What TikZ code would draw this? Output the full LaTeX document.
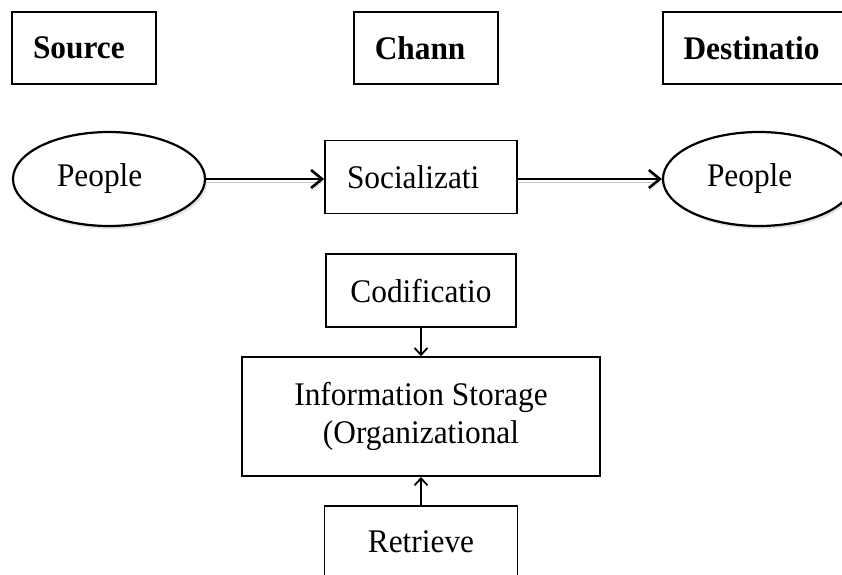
\documentclass[tikz,border=0pt]{standalone}
\usepackage{fontspec}
\setmainfont{Liberation Serif}[FakeStretch=0.95]
\usetikzlibrary{arrows.meta,positioning,shapes.geometric,shadows}

\begin{document}
\begin{tikzpicture}[x=1pt, y=-1pt,
  every node/.style={font=\fontsize{33pt}{38pt}\selectfont},
  box/.style={draw, line width=1.8pt, inner sep=0pt, align=center, minimum height=72pt},
  headbox/.style={box, align=left, inner xsep=21pt, text width=#1, font=\fontsize{33pt}{38pt}\selectfont\bfseries},
  person/.style={draw, ellipse, line width=2.2pt, fill=white, inner sep=0pt, text width=104pt, align=left, minimum width=192pt, minimum height=94pt, drop shadow={shadow xshift=2pt, shadow yshift=-3pt, fill=black!22}},
  flow/.style={line width=2.6pt, -{Straight Barb[length=11pt, width=18pt]}, preaction={draw=black!20, transform canvas={yshift=-3pt}}},
  feed/.style={line width=1.8pt, -{Straight Barb[length=7pt, width=13pt]}}]
\useasboundingbox (0,0) rectangle (842,574);
\clip (0,0) rectangle (842,574);
% header row
\node[headbox=102pt] (source) at (84,48) {Source};
\node[headbox=102pt, right=196pt of source] (channel) {Chann};
\node[headbox=144pt, right=163pt of channel] (dest) {Destinatio};
% flow row
\node[person] (src) at (109,179) {People};
\node[box, right=118pt of src, yshift=2pt, text width=148pt, align=left, inner xsep=22pt, minimum height=73pt] (social) {Socializati};
\node[person, right=144pt of social, yshift=-2pt] (dst) {People};
% storage column
\node[box, minimum width=190pt, minimum height=73pt, below=39pt of social] (codif) {Codificatio};
\node[box, minimum width=358pt, minimum height=119pt, below=28pt of codif] (store) {Information Storage\\(Organizational};
\node[box, minimum width=193pt, below=28pt of store] (retr) {Retrieve};
\draw[flow] (src.east) -- (src.east -| social.west);
\draw[flow] (social.east |- dst.west) -- (dst.west);
\draw[feed] (codif.south) -- (store.north -| codif.south);
\draw[feed] (retr.north) -- (store.south -| retr.north);
\end{tikzpicture}
\end{document}
